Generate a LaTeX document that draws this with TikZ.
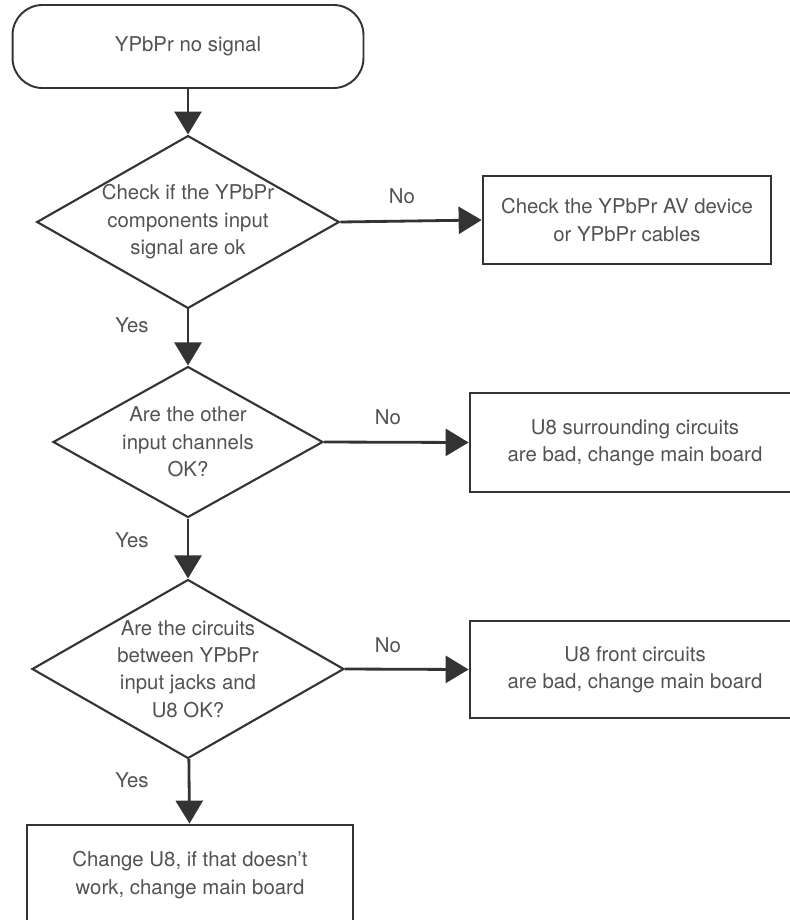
\documentclass[tikz,border=0pt]{standalone}
\usepackage{fontspec}
\setmainfont{TeX Gyre Heros}
\usetikzlibrary{arrows.meta, shapes.geometric}
\definecolor{ink}{gray}{0.2}
\tikzset{
  every node/.style={font=\fontsize{11.6}{15.6}\selectfont, text=ink!85, align=center},
  startbox/.style={draw=ink, line width=1.1pt, rounded corners=0.6cm},
  stepbox/.style={draw=ink, line width=1.6pt},
  decision/.style={draw=ink, diamond, aspect=1.75, inner sep=0pt, line width=1.2pt},
  flow/.style={draw=ink, line width=1.6pt, -{Triangle[width=0.54cm, length=0.46cm]}}
}
\begin{document}
\begin{tikzpicture}[x=0.02cm, y=-0.02cm]
	\useasboundingbox (0, 0) rectangle (789, 920);
	% Start
	\node[startbox, minimum width=7.02cm, minimum height=1.66cm] (start) at (188, 46.5) {YPbPr no signal};
	% Decisions
	\node[decision, minimum width=5.9cm, minimum height=3.38cm] (d1) at (188, 222) {Check if the YPbPr\\components input\\signal are ok};
	\node[decision, minimum width=5.4cm, minimum height=3.02cm] (d2) at (188, 442) {Are the other\\input channels\\OK?};
	\node[decision, minimum width=6.24cm, minimum height=3.58cm] (d3) at (188, 669) {Are the circuits\\between YPbPr\\input jacks and\\U8 OK?};
	% Actions
	\node[stepbox, minimum width=5.76cm, minimum height=1.76cm] (b1) at (627, 220) {Check the YPbPr AV device\\or YPbPr cables};
	\node[stepbox, minimum width=6.6cm, minimum height=1.98cm] (b2) at (635, 442.5) {U8 surrounding circuits\\are bad, change main board};
	\node[stepbox, minimum width=6.6cm, minimum height=1.94cm] (b3) at (635, 669.5) {U8 front circuits\\are bad, change main board};
	\node[stepbox, minimum width=6.52cm, minimum height=2cm] (end) at (190, 875) {Change U8, if that doesn't\\work, change main board};
	% Edges
	\draw[flow] (start) -- (d1);
	\draw[flow] (d1) -- (d2);
	\draw[flow] (d2) -- (d3);
	\draw[flow] (d3) -- (end);
	\draw[flow] (d1.east) -- (b1.west);
	\draw[flow] (d2.east) -- (b2.west);
	\draw[flow] (d3.east) -- (b3.west);
	% Labels
	\node (no1) at (402, 196) {No};
	\node (no2) at (388, 417) {No};
	\node (no3) at (388, 645) {No};
	\node (yes1) at (132, 325) {Yes};
	\node (yes2) at (132, 540) {Yes};
	\node (yes3) at (132, 780) {Yes};
\end{tikzpicture}
\end{document}
